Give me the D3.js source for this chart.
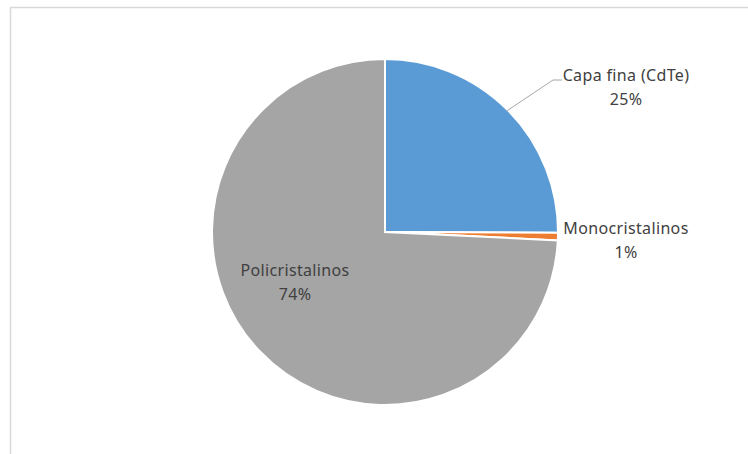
<!DOCTYPE html>
<html><head><meta charset="utf-8">
<script src="https://cdn.jsdelivr.net/npm/d3@7"></script>
<style>html,body{margin:0;padding:0;background:#fff;}svg{display:block;}</style>
</head><body>
<svg id="c" width="748" height="454"></svg>
<script>
const categories = ["Capa fina (CdTe)", "Monocristalinos", "Policristalinos"];
const values = [25, 0.7, 74];
const colors = ["#5B9BD5", "#ED7D31", "#A5A5A5"];

const svg = d3.select("#c");
svg.append("rect").attr("x", 10.5).attr("y", 7.5).attr("width", 800).attr("height", 500)
  .attr("fill", "#fff").attr("stroke", "#d9d9d9").attr("stroke-width", 1.5);

const cx = 385, cy = 232, r = 173;
const total = d3.sum(values);
const data = categories.map((c, i) => ({cat: c, value: values[i], color: colors[i]}));
const pie = d3.pie().value(d => d.value).sort(null);
const arcs = pie(data);
const arc = d3.arc().innerRadius(0).outerRadius(r);
const g = svg.append("g").attr("transform", `translate(${cx},${cy})`);
g.selectAll("path").data(arcs).join("path")
  .attr("d", arc).attr("fill", d => d.data.color)
  .attr("stroke", "#fff").attr("stroke-width", 2);

const fmt = d => Math.round(d.value / total * 100) + "%";
const font = "'Noto Sans', 'Open Sans', sans-serif";

function label(x, y, d) {
  const t = svg.append("text").attr("x", x).attr("y", y).attr("text-anchor", "middle")
    .attr("font-family", font).attr("font-size", 16).attr("letter-spacing", 0.35)
    .attr("fill", "#404040");
  t.append("tspan").attr("x", x).attr("dy", 0).text(d.data.cat);
  t.append("tspan").attr("x", x).attr("dy", 24).text(fmt(d));
}

// Capa fina - outside with leader line
const a0 = arcs[0];
const mid0 = (a0.startAngle + a0.endAngle) / 2;
const edge = [cx + Math.sin(mid0) * (r * 0.99), cy - Math.cos(mid0) * (r * 0.99)];
label(626, 81, a0);
svg.append("polyline")
  .attr("points", `${edge[0]},${edge[1]} 553,80 562,80`)
  .attr("fill", "none").attr("stroke", "#a6a6a6").attr("stroke-width", 1);

// Monocristalinos - outside right
label(626, 234, arcs[1]);
// Policristalinos - inside
label(295, 276, arcs[2]);
</script>
</body></html>
